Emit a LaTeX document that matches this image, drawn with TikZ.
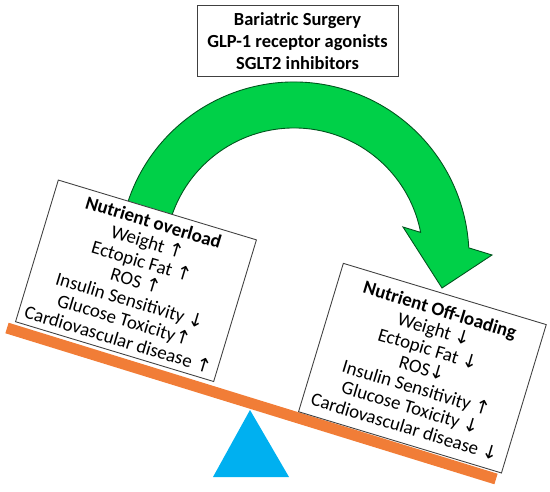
\documentclass[tikz,border=0pt]{standalone}
\usepackage{fontspec}
\usetikzlibrary{calc}
\setmainfont{Carlito}
\newfontfamily\arrfont{DejaVu Sans}
\newcommand{\upA}{{\arrfont ↑}}
\newcommand{\dnA}{{\arrfont ↓}}

\definecolor{arrowgreen}{RGB}{0,208,72}
\definecolor{plankorange}{RGB}{241,125,55}
\definecolor{fulcrumblue}{RGB}{0,176,240}

\begin{document}
\begin{tikzpicture}[x=0.02cm, y=-0.02cm,
    box/.style={draw=black!75, line width=0.5pt, fill=white, align=center, inner sep=2pt},
    listtext/.style={font=\fontsize{10.8}{11.6}\selectfont}]

    % パラメータの定義
    \pgfmathsetmacro{\tilt}{16.8}
    \pgfmathsetmacro{\Ro}{175}
    \pgfmathsetmacro{\Ri}{129}

    \useasboundingbox (0,0) rectangle (550,492);

    % 点の定義
    \coordinate (O) at (294,257);
    \coordinate (L) at (7,328);
    \coordinate (R) at (496,479);
    \coordinate (F) at (250,410);
    \coordinate (Fl) at (213,477);
    \coordinate (Fr) at (289,477);
    \coordinate (Bo) at (492,255);
    \coordinate (T) at (442,288);
    \coordinate (Bi) at (403,227);

    % 支点とシーソーの描画
    \fill [fulcrumblue] (F) -- (Fl) -- (Fr) -- cycle;
    \draw [plankorange, line width=0.22cm] (L) -- (R);

    % 矢印の描画
    \draw [arrowgreen!40!black, line width=0.5pt, fill=arrowgreen]
        (O) ++(-165:\Ro) arc [start angle=-165, end angle=-3, radius=\Ro]
        -- (Bo) -- (T) -- (Bi)
        -- ($(O)+(-11:\Ri)$) arc [start angle=-11, end angle=-165, radius=\Ri]
        -- cycle;

    % 箱の描画
    \node (treat) at (297.5,41) [box, minimum width=4.02cm, minimum height=1.42cm,
        font=\fontsize{10.5}{12.5}\selectfont\bfseries]
        {Bariatric Surgery\\ GLP-1 receptor agonists\\ SGLT2 inhibitors};

    \node (over) at (15,322) [box, listtext, rotate=-\tilt, anchor=south west,
        minimum width=4.14cm, minimum height=2.96cm]
        {{\bfseries Nutrient overload}\\ Weight \upA\\ Ectopic Fat \upA\\ ROS \upA\\
         Insulin Sensitivity \dnA\\ Glucose Toxicity\upA\\ Cardiovascular disease \upA};

    \node (off) at (298,412) [box, listtext, rotate=-\tilt, anchor=south west,
        minimum width=4.24cm, minimum height=3.1cm]
        {{\bfseries Nutrient Off-loading}\\ Weight \dnA\\ Ectopic Fat \dnA\\ ROS\dnA\\
         Insulin Sensitivity \upA\\ Glucose Toxicity \dnA\\ Cardiovascular disease \dnA};

\end{tikzpicture}
\end{document}
